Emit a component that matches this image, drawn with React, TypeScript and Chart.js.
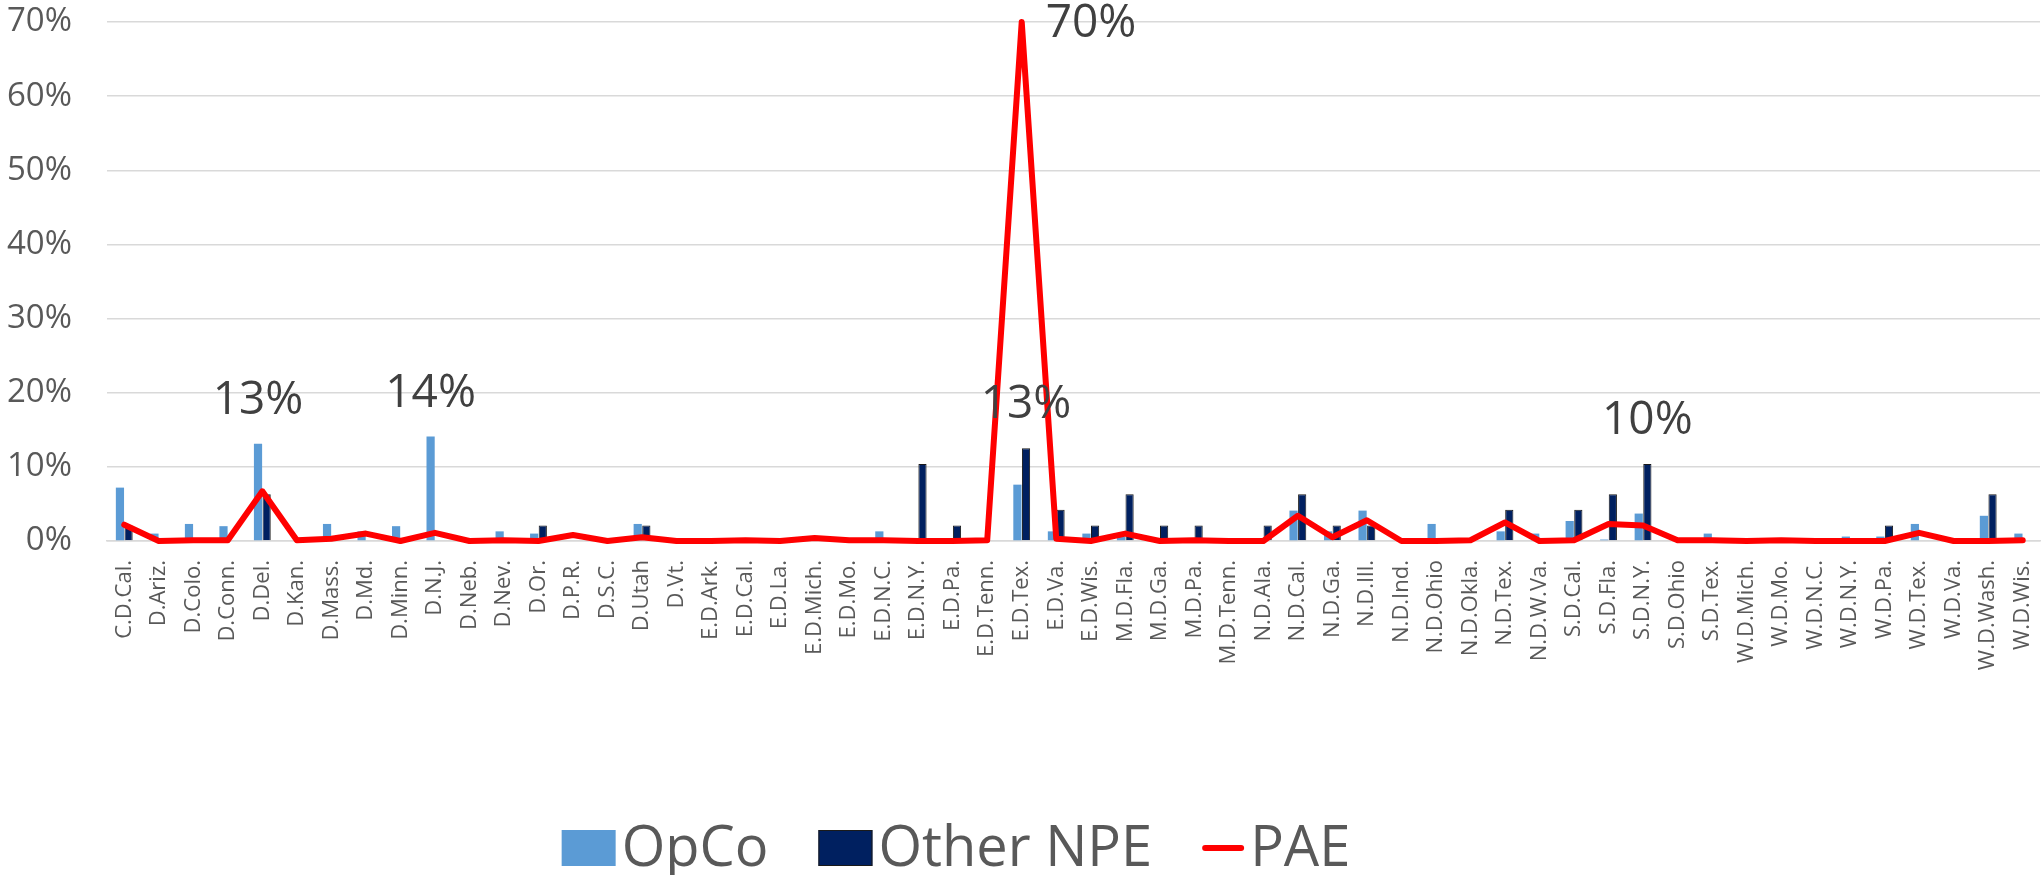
import { useEffect, useRef } from "react";
import { Chart, registerables } from "chart.js";

Chart.register(...registerables);

const categories = [
  "C.D.Cal.", "D.Ariz.", "D.Colo.", "D.Conn.", "D.Del.", "D.Kan.", "D.Mass.", "D.Md.",
  "D.Minn.", "D.N.J.", "D.Neb.", "D.Nev.", "D.Or.", "D.P.R.", "D.S.C.", "D.Utah",
  "D.Vt.", "E.D.Ark.", "E.D.Cal.", "E.D.La.", "E.D.Mich.", "E.D.Mo.", "E.D.N.C.", "E.D.N.Y.",
  "E.D.Pa.", "E.D.Tenn.", "E.D.Tex.", "E.D.Va.", "E.D.Wis.", "M.D.Fla.", "M.D.Ga.", "M.D.Pa.",
  "M.D.Tenn.", "N.D.Ala.", "N.D.Cal.", "N.D.Ga.", "N.D.Ill.", "N.D.Ind.", "N.D.Ohio", "N.D.Okla.",
  "N.D.Tex.", "N.D.W.Va.", "S.D.Cal.", "S.D.Fla.", "S.D.N.Y.", "S.D.Ohio", "S.D.Tex.", "W.D.Mich.",
  "W.D.Mo.", "W.D.N.C.", "W.D.N.Y.", "W.D.Pa.", "W.D.Tex.", "W.D.Va.", "W.D.Wash.", "W.D.Wis.",
];

// percent values
const opcoValues = [
  7.2, 1.0, 2.3, 2.0, 13.1, 0, 2.3, 1.3,
  2.0, 14.1, 0, 1.3, 1.0, 0, 0, 2.3,
  0, 0, 0, 0, 0, 0, 1.3, 0,
  0, 0, 7.6, 1.3, 1.0, 0.6, 0, 0,
  0, 0, 4.1, 1.3, 4.1, 0, 2.3, 0,
  1.3, 1.0, 2.7, 0.2, 3.7, 0, 1.0, 0,
  0, 0, 0.6, 0.6, 2.3, 0, 3.4, 1.0,
];

const otherNpeValues = [
  2.1, 0, 0, 0, 6.3, 0, 0, 0,
  0, 0, 0, 0, 2.1, 0, 0, 2.1,
  0, 0, 0, 0, 0, 0, 0, 10.4,
  2.1, 0, 12.5, 4.2, 2.1, 6.3, 2.1, 2.1,
  0, 2.1, 6.3, 2.1, 2.1, 0, 0, 0,
  4.2, 0, 4.2, 6.3, 10.4, 0, 0, 0,
  0, 0, 0, 2.1, 0, 0, 6.3, 0,
];

const paeValues = [
  2.2, 0, 0.1, 0.1, 6.7, 0.1, 0.3, 1.0,
  0, 1.1, 0, 0.1, 0, 0.8, 0, 0.5,
  0, 0, 0.1, 0, 0.4, 0.1, 0.1, 0,
  0, 0.1, 70, 0.3, 0, 1.0, 0, 0.1,
  0, 0, 3.4, 0.5, 2.8, 0, 0, 0.1,
  2.5, 0, 0.1, 2.3, 2.1, 0.1, 0.1, 0,
  0.1, 0, 0, 0, 1.1, 0, 0, 0.1,
];

const yTicks = [0, 10, 20, 30, 40, 50, 60, 70];

const valueLabels = [
  { category: "D.Del.", series: "OpCo" },
  { category: "D.N.J.", series: "OpCo" },
  { category: "E.D.Tex.", series: "Other NPE" },
  { category: "S.D.N.Y.", series: "Other NPE" },
  { category: "E.D.Tex.", series: "PAE" },
];

const FONT = '"Open Sans", "Liberation Sans", sans-serif';
const OPCO_COLOR = "#5B9BD5";
const NPE_COLOR = "#002060";
const PAE_COLOR = "#FF0000";
const TEXT_COLOR = "#595959";

const valueLabelPlugin = {
  id: "valueLabels",
  afterDatasetsDraw(chart: any) {
    const ctx = chart.ctx;
    ctx.save();
    ctx.font = `46px ${FONT}`;
    ctx.fillStyle = "#404040";
    ctx.textBaseline = "middle";
    for (const lab of valueLabels) {
      const dsIndex = chart.data.datasets.findIndex((d: any) => d.label === lab.series);
      const i = categories.indexOf(lab.category);
      if (dsIndex < 0 || i < 0) continue;
      const el = chart.getDatasetMeta(dsIndex).data[i];
      const v = chart.data.datasets[dsIndex].data[i];
      const text = Math.round(v) + "%";
      if (lab.series === "PAE") {
        ctx.textAlign = "left";
        ctx.fillText(text, el.x + 24, el.y + 2);
      } else {
        ctx.textAlign = "center";
        ctx.fillText(text, el.x, el.y - 43);
      }
    }
    ctx.restore();
  },
};

const legendPlugin = {
  id: "bottomLegend",
  afterDraw(chart: any) {
    const ctx = chart.ctx;
    ctx.save();
    ctx.font = `56px ${FONT}`;
    ctx.textBaseline = "middle";
    ctx.textAlign = "left";
    const order = ["OpCo", "Other NPE", "PAE"];
    const items = order
      .map((name) => chart.data.datasets.find((d: any) => d.label === name))
      .filter(Boolean);
    const boxW = 54;
    const boxH = 36;
    const lineW = 42;
    const gap = 6;
    const spacing = 50;
    const widths = items.map((d: any) => {
      const sym = d.type === "line" ? lineW : boxW;
      return sym + gap + ctx.measureText(d.label).width;
    });
    const total = widths.reduce((a: number, b: number) => a + b, 0) + spacing * (items.length - 1);
    let x = 956 - total / 2;
    const y = 848;
    items.forEach((d: any, k: number) => {
      if (d.type === "line") {
        ctx.strokeStyle = d.borderColor;
        ctx.lineWidth = 6;
        ctx.lineCap = "round";
        ctx.beginPath();
        ctx.moveTo(x + 3, y);
        ctx.lineTo(x + lineW - 3, y);
        ctx.stroke();
        ctx.fillStyle = TEXT_COLOR;
        ctx.fillText(d.label, x + lineW + gap, y + 2);
      } else {
        ctx.fillStyle = d.backgroundColor;
        ctx.fillRect(x, y - boxH / 2, boxW, boxH);
        if (d.borderWidth) {
          ctx.strokeStyle = d.borderColor;
          ctx.lineWidth = 1;
          ctx.strokeRect(x + 0.5, y - boxH / 2 + 0.5, boxW - 1, boxH - 1);
        }
        ctx.fillStyle = TEXT_COLOR;
        ctx.fillText(d.label, x + boxW + gap, y + 2);
      }
      x += widths[k] + spacing;
    });
    ctx.restore();
  },
};

export default function App() {
  const canvasRef = useRef<HTMLCanvasElement | null>(null);

  useEffect(() => {
    if (!canvasRef.current) return;
    const chart = new Chart(canvasRef.current, {
      type: "bar",
      data: {
        labels: categories,
        datasets: [
          {
            type: "bar",
            label: "OpCo",
            data: opcoValues,
            backgroundColor: OPCO_COLOR,
            borderWidth: 0,
            order: 2,
            categoryPercentage: 0.5,
            barPercentage: 0.95,
          },
          {
            type: "bar",
            label: "Other NPE",
            data: otherNpeValues,
            backgroundColor: NPE_COLOR,
            borderColor: "#1a1a1a",
            borderWidth: 1,
            order: 2,
            categoryPercentage: 0.5,
            barPercentage: 0.95,
          },
          {
            type: "line",
            label: "PAE",
            data: paeValues,
            borderColor: PAE_COLOR,
            backgroundColor: PAE_COLOR,
            borderWidth: 6,
            pointRadius: 0,
            pointHitRadius: 0,
            pointHoverRadius: 0,
            tension: 0,
            borderJoinStyle: "round",
            borderCapStyle: "round",
            clip: false,
            order: 0,
          } as any,
        ],
      },
      options: {
        responsive: false,
        animation: false,
        events: [],
        layout: { autoPadding: false, padding: { left: 6, right: 4, top: 22, bottom: 204 } },
        plugins: {
          legend: { display: false },
          tooltip: { enabled: false },
          title: { display: false },
        },
        scales: {
          x: {
            offset: true,
            grid: { display: false, drawTicks: false },
            border: { display: true, color: "#d9d9d9", width: 1.5 },
            ticks: {
              autoSkip: false,
              minRotation: 90,
              maxRotation: 90,
              padding: 19,
              color: TEXT_COLOR,
              font: { family: FONT, size: 22 },
            },
            afterFit: (scale: any) => {
              scale.height = 130;
              scale.paddingLeft = 0;
              scale.paddingRight = 0;
            },
          },
          y: {
            min: 0,
            max: 70,
            afterBuildTicks: (scale: any) => {
              scale.ticks = yTicks.map((v) => ({ value: v }));
            },
            afterFit: (scale: any) => {
              scale.width = 101;
              scale.paddingTop = 0;
              scale.paddingBottom = 0;
            },
            grid: { color: "#d9d9d9", lineWidth: 1.5, drawTicks: false },
            border: { display: false },
            ticks: {
              padding: 35,
              color: TEXT_COLOR,
              font: { family: FONT, size: 33 },
              callback: (v: any) => v + "%",
            },
          },
        },
      },
      plugins: [valueLabelPlugin, legendPlugin],
    });
    return () => chart.destroy();
  }, []);

  return (
    <div style={{ position: "absolute", left: 0, top: 0, width: 2044, height: 875, background: "#fff" }}>
      <canvas ref={canvasRef} width={2044} height={875} style={{ display: "block" }} />
    </div>
  );
}
